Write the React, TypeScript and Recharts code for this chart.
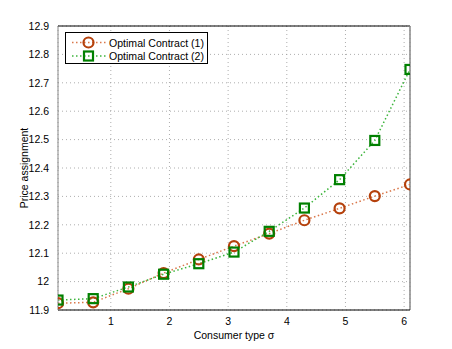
import { LineChart, Line, XAxis, YAxis, CartesianGrid, ReferenceLine } from 'recharts';

const sigma = [0.1, 0.7, 1.3, 1.9, 2.5, 3.1, 3.7, 4.3, 4.9, 5.5, 6.1];
const contract1 = [11.924, 11.927, 11.975, 12.03, 12.078, 12.125, 12.169, 12.216, 12.258, 12.301, 12.342];
const contract2 = [11.935, 11.94, 11.981, 12.026, 12.063, 12.104, 12.177, 12.259, 12.359, 12.497, 12.747];
const xTicks = [1, 2, 3, 4, 5, 6];
const yTicks = [11.9, 12, 12.1, 12.2, 12.3, 12.4, 12.5, 12.6, 12.7, 12.8, 12.9];
const seriesNames = ['Optimal Contract (1)', 'Optimal Contract (2)'];

const data = sigma.map((s, i) => ({ s, c1: contract1[i], c2: contract2[i] }));

const ORANGE = '#b5410c';
const ORANGE_LINE = '#d9774a';
const GREEN = '#008000';
const GREEN_LINE = '#3cb43c';
const FONT = '"Liberation Sans", Arial, sans-serif';
const FS = 10.5;

const CircleDot = (props: any) => {
  const { cx, cy, index } = props;
  return <circle key={`c-${index}`} cx={cx} cy={cy} r={5} fill="none" stroke={ORANGE} strokeWidth={2.2} />;
};

const SquareDot = (props: any) => {
  const { cx, cy, index } = props;
  return <rect key={`s-${index}`} x={cx - 4.5} y={cy - 4.5} width={9} height={9} fill="none" stroke={GREEN} strokeWidth={2.2} />;
};

const LegendBox = () => (
  <div
    style={{
      position: 'absolute',
      left: 65,
      top: 32,
      width: 143,
      height: 32,
      border: '1px solid #000',
      background: '#fff',
      boxSizing: 'border-box',
    }}
  >
    <svg width={141} height={30} style={{ display: 'block' }}>
      <line x1={6} y1={9.5} x2={40} y2={9.5} stroke={ORANGE_LINE} strokeWidth={1.5} strokeDasharray="1.5 2.5" />
      <circle cx={22.5} cy={9.5} r={5} fill="none" stroke={ORANGE} strokeWidth={2.2} />
      <text x={43} y={13.5} fontFamily={FONT} fontSize={FS} textLength={95} lengthAdjust="spacingAndGlyphs">{seriesNames[0]}</text>
      <line x1={6} y1={23} x2={40} y2={23} stroke={GREEN_LINE} strokeWidth={1.5} strokeDasharray="1.5 2.5" />
      <rect x={18} y={18.5} width={9} height={9} fill="none" stroke={GREEN} strokeWidth={2.2} />
      <text x={43} y={27} fontFamily={FONT} fontSize={FS} textLength={95} lengthAdjust="spacingAndGlyphs">{seriesNames[1]}</text>
    </svg>
  </div>
);

export default function App() {
  return (
    <div style={{ position: 'absolute', left: 0, top: 0, width: 452, height: 349, background: '#fff' }}>
      <LineChart width={452} height={349} data={data} margin={{ top: 26, right: 42, bottom: 0, left: 0 }}>
        <CartesianGrid stroke="#999" strokeDasharray="1 3" strokeWidth={0.8} />
        <XAxis
          dataKey="s"
          type="number"
          domain={[0.1, 6.1]}
          ticks={xTicks}
          height={39}
          tickLine={false}
          tickMargin={2}
          stroke="#000"
          allowDataOverflow
          tick={{ fill: '#000', fontSize: FS, fontFamily: FONT }}
          label={{ value: 'Consumer type σ', position: 'insideBottom', offset: 10, fill: '#000', fontSize: FS, fontFamily: FONT }}
        />
        <YAxis
          type="number"
          domain={[11.9, 12.9]}
          ticks={yTicks}
          width={58}
          tickLine={false}
          tickMargin={3}
          stroke="#888"
          allowDataOverflow
          tickFormatter={(v: number) => (Math.round(v * 10) / 10).toString()}
          tick={{ fill: '#000', fontSize: FS, fontFamily: FONT }}
          label={{ value: 'Price assignment', angle: -90, position: 'insideLeft', offset: 24, fill: '#000', fontSize: FS, fontFamily: FONT, style: { textAnchor: 'middle' } }}
        />
        <ReferenceLine y={12.9} stroke="#000" strokeWidth={1} />
        <ReferenceLine x={6.1} stroke="#888" strokeWidth={1.5} />
        <Line
          dataKey="c1"
          name={seriesNames[0]}
          stroke={ORANGE_LINE}
          strokeWidth={1.5}
          strokeDasharray="1.5 2.5"
          dot={CircleDot}
          activeDot={false}
          isAnimationActive={false}
          type="linear"
        />
        <Line
          dataKey="c2"
          name={seriesNames[1]}
          stroke={GREEN_LINE}
          strokeWidth={1.5}
          strokeDasharray="1.5 2.5"
          dot={SquareDot}
          activeDot={false}
          isAnimationActive={false}
          type="linear"
        />
      </LineChart>
      <LegendBox />
    </div>
  );
}
